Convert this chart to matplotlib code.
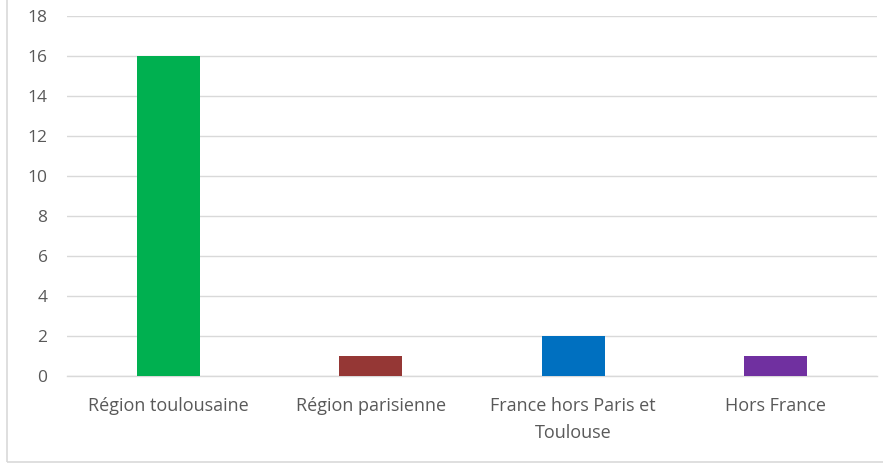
import matplotlib
matplotlib.use("Agg")
import matplotlib.pyplot as plt
from matplotlib.patches import Rectangle

categories = ["Région toulousaine", "Région parisienne", "France hors Paris et\nToulouse", "Hors France"]
values = [16, 1, 2, 1]
colors = ["#00B050", "#953735", "#0070C0", "#7030A0"]
yticks = [0, 2, 4, 6, 8, 10, 12, 14, 16, 18]

plt.rcParams['font.family'] = ['Open Sans', 'DejaVu Sans']

W, H = 883, 467
fig = plt.figure(figsize=(W / 100, H / 100), dpi=100)
ax = fig.add_axes([67 / W, 1 - 376 / H, (877 - 67) / W, (376 - 16) / H])

x = range(len(categories))
ax.bar(x, values, width=0.31, color=colors, zorder=3)
ax.set_xlim(-0.5, len(categories) - 0.5)
ax.set_ylim(0, 18)
ax.set_yticks(yticks)
ax.set_xticks(list(x))
ax.set_xticklabels(categories, fontsize=13, color="#595959", linespacing=1.65)
ax.tick_params(axis='y', labelsize=12.5, colors="#595959", length=0, pad=14)
ax.tick_params(axis='x', length=0, pad=15)
ax.grid(axis='y', color="#D9D9D9", linewidth=1, zorder=0)
for s in ['top', 'right', 'left']:
    ax.spines[s].set_visible(False)
ax.spines['bottom'].set_color("#D9D9D9")
ax.spines['bottom'].set_linewidth(1)

fig.patches.append(Rectangle((7 / W, 5 / H), 1.0, 1.0, transform=fig.transFigure,
                             fill=False, edgecolor="#D9D9D9", linewidth=1.2))

fig.savefig("out.png", dpi=100)
